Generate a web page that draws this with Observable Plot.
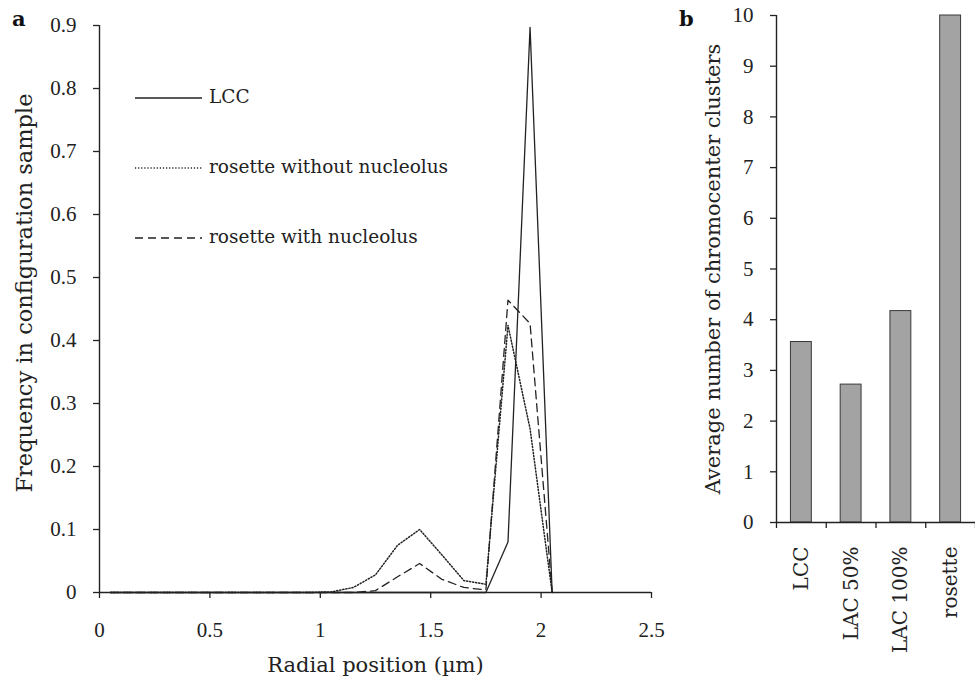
<!DOCTYPE html>
<html><head><meta charset="utf-8">
<script src="https://cdn.jsdelivr.net/npm/d3@7"></script>
<script src="https://cdn.jsdelivr.net/npm/@observablehq/plot@0.6"></script>
<style>
body{margin:0;background:#fff;}
#wrap{position:relative;width:975px;height:677px;overflow:hidden;background:#fff;}
#a{position:absolute;left:0;top:0;}
#b{position:absolute;left:690px;top:0;}
.lab{position:absolute;font-family:"DejaVu Serif";font-weight:bold;font-size:21px;color:#111;line-height:1;}
.leg{position:absolute;font-family:"DejaVu Serif";font-size:18.5px;color:#222;line-height:20px;white-space:nowrap;}
.legsw{position:absolute;}
</style></head>
<body><div id="wrap">
<div id="a"></div><div id="b"></div>
<div class="lab" style="left:12px;top:8px">a</div>
<div class="lab" style="left:679px;top:8px">b</div>
<div id="legend"></div>
</div>
<script>
// ---- Panel a data ----
const radial = [0.05,0.15,0.25,0.35,0.45,0.55,0.65,0.75,0.85,0.95,1.05,1.15,1.25,1.35,1.45,1.55,1.65,1.75,1.85,1.95,2.05];
const lcc          = [0,0,0,0,0,0,0,0,0,0,0,0,0,0,0,0,0,0,0.08,0.897,0];
const rosetteNoNuc = [0,0,0,0,0,0,0,0,0,0,0.001,0.008,0.028,0.075,0.1,0.06,0.019,0.013,0.424,0.26,0];
const rosetteNuc   = [0,0,0,0,0,0,0,0,0,0,0,0,0.003,0.025,0.046,0.021,0.008,0.004,0.464,0.427,0];
const seriesNames = ["LCC","rosette without nucleolus","rosette with nucleolus"];
const xTicksA = [0,0.5,1,1.5,2,2.5];
const yTicksA = [0,0.1,0.2,0.3,0.4,0.5,0.6,0.7,0.8,0.9];

// ---- Panel b data ----
const categories = ["LCC","LAC 50%","LAC 100%","rosette"];
const clusters = [3.56,2.72,4.17,10];
const yTicksB = [0,1,2,3,4,5,6,7,8,9,10];

const INK = "#222";
const dashes = ["none","1.2,1.9","8,5"];
const widths = [1.3,1.5,1.3];
const allSeries = [lcc, rosetteNoNuc, rosetteNuc];
const rows = allSeries.map((vals,s)=>radial.map((x,i)=>({x, y: vals[i], series: seriesNames[s]})));

const plotA = Plot.plot({
  width: 690, height: 677,
  marginLeft: 99, marginRight: 39, marginTop: 25, marginBottom: 85,
  style: {fontFamily: "Liberation Serif", fontSize: "21px", color: INK, background: "transparent"},
  x: {domain: [0, 2.5]},
  y: {domain: [0, 0.9]},
  marks: [
    Plot.axisY({ticks: yTicksA, tickSize: 6, tickPadding: 17, tickFormat: d => String(d), label: null, strokeWidth: 1.3}),
    Plot.axisX({ticks: xTicksA, tickSize: 6, tickPadding: 24, tickFormat: d => String(d), label: null, strokeWidth: 1.3}),
    Plot.ruleX([0], {stroke: INK, strokeWidth: 1.4}),
    Plot.ruleY([0], {stroke: INK, strokeWidth: 1.4}),
    ...rows.map((r,s)=>Plot.line(r, {x: "x", y: "y", stroke: INK, strokeWidth: widths[s], strokeDasharray: dashes[s]})),
    Plot.text(["Frequency in configuration sample"], {frameAnchor: "left", textAnchor: "middle", rotate: -90, dx: -75, dy: -16, fontFamily: "DejaVu Serif", fontSize: 22.5, fill: INK}),
    Plot.text(["Radial position (\u00b5m)"], {frameAnchor: "bottom", dy: 73, lineAnchor: "middle", fontFamily: "DejaVu Serif", fontSize: 21, fill: INK})
  ]
});
document.getElementById("a").append(plotA);

const barRows = categories.map((c,i)=>({i, c, v: clusters[i]}));
const plotB = Plot.plot({
  width: 285, height: 677,
  marginLeft: 86, marginRight: 0, marginTop: 15, marginBottom: 155,
  style: {fontFamily: "Liberation Serif", fontSize: "21px", color: INK, background: "transparent", overflow: "visible"},
  x: {domain: [0, categories.length]},
  y: {domain: [0, 10]},
  marks: [
    Plot.rectY(barRows, {x1: d => d.i + 0.29, x2: d => d.i + 0.71, y: "v", fill: "#a3a3a3", stroke: "#3a3a3a", strokeWidth: 1}),
    Plot.axisY({ticks: yTicksB, tickSize: 6, tickPadding: 17, tickFormat: d => String(d), label: null, strokeWidth: 1.3}),
    Plot.axisX({ticks: d3.range(categories.length + 1), tickSize: 6, tickFormat: () => "", label: null, strokeWidth: 1.3}),
    Plot.axisX({ticks: categories.map((c,i)=>i+0.5), tickSize: 0, tickPadding: 24, tickRotate: -90, tickFormat: d => categories[Math.floor(d)], label: null, fontFamily: "DejaVu Serif", fontSize: 20}),
    Plot.ruleX([0], {stroke: INK, strokeWidth: 1.4}),
    Plot.ruleY([0], {stroke: INK, strokeWidth: 1.4}),
    Plot.text(["Average number of chromocenter clusters"], {frameAnchor: "left", textAnchor: "middle", rotate: -90, dx: -63, fontFamily: "DejaVu Serif", fontSize: 21, fill: INK})
  ]
});
document.getElementById("b").append(plotB);

// ---- Legend (panel a) ----
const legend = document.getElementById("legend");
const legY = [98, 168, 238];
seriesNames.forEach((name, s) => {
  const sw = document.createElementNS("http://www.w3.org/2000/svg","svg");
  sw.setAttribute("class","legsw"); sw.setAttribute("width","68"); sw.setAttribute("height","6");
  sw.style.left = "135px"; sw.style.top = (legY[s]-3) + "px";
  const ln = document.createElementNS("http://www.w3.org/2000/svg","line");
  ln.setAttribute("x1","0"); ln.setAttribute("x2","67"); ln.setAttribute("y1","3"); ln.setAttribute("y2","3");
  ln.setAttribute("stroke", INK); ln.setAttribute("stroke-width", String(widths[s]));
  if (dashes[s] !== "none") ln.setAttribute("stroke-dasharray", dashes[s]);
  sw.append(ln);
  legend.append(sw);
  const t = document.createElement("div");
  t.className = "leg"; t.textContent = name;
  t.style.left = "209px"; t.style.top = (legY[s]-11) + "px";
  legend.append(t);
});
</script>
</body></html>
